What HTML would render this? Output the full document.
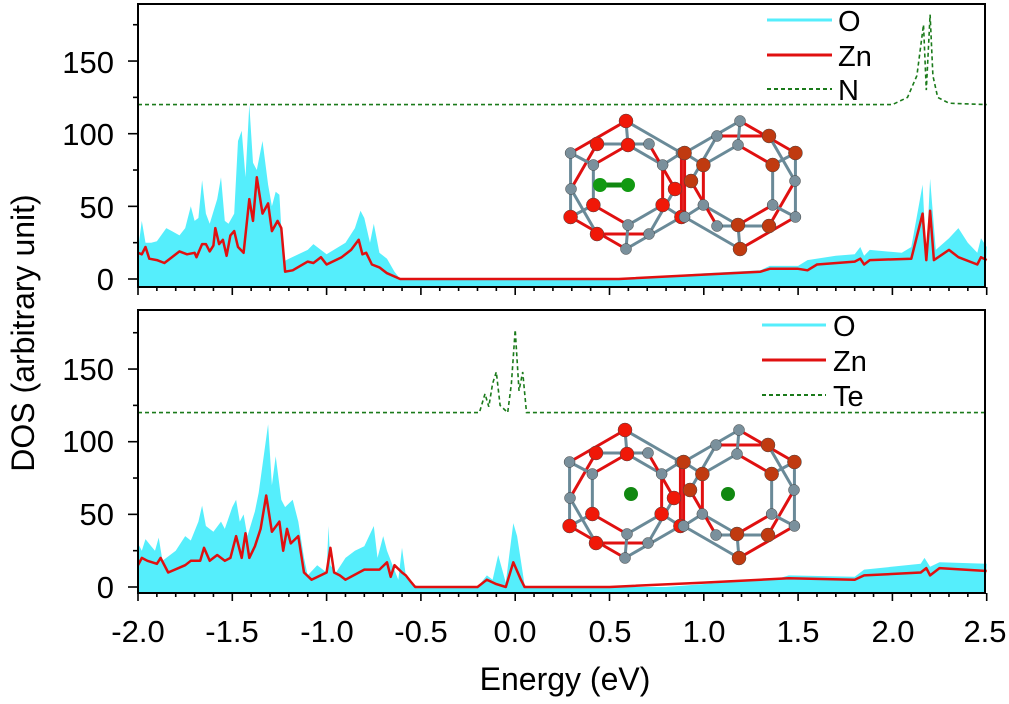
<!DOCTYPE html>
<html><head><meta charset="utf-8">
<style>
html,body{margin:0;padding:0;background:#fff;}
svg text{font-family:"Liberation Sans",Arial,sans-serif;fill:#000;}
</style></head>
<body>
<svg id="s" width="1009" height="699" viewBox="0 0 1009 699" xmlns="http://www.w3.org/2000/svg">
<g id="g"></g>
<g font-size="31">
<text x="114" y="73" text-anchor="end">150</text>
<text x="114" y="145" text-anchor="end">100</text>
<text x="114" y="218" text-anchor="end">50</text>
<text x="114" y="290" text-anchor="end">0</text>
<text x="114" y="380" text-anchor="end">150</text>
<text x="114" y="452" text-anchor="end">100</text>
<text x="114" y="525" text-anchor="end">50</text>
<text x="114" y="598" text-anchor="end">0</text>
</g>
<g font-size="31" text-anchor="middle">
<text x="138" y="642">-2.0</text><text x="232" y="642">-1.5</text><text x="327" y="642">-1.0</text>
<text x="421" y="642">-0.5</text><text x="515" y="642">0.0</text><text x="610" y="642">0.5</text>
<text x="704" y="642">1.0</text><text x="798" y="642">1.5</text><text x="893" y="642">2.0</text>
<text x="985" y="642">2.5</text>
</g>
<text x="565" y="690" font-size="32" text-anchor="middle">Energy (eV)</text>
<text transform="translate(34,333) rotate(-90)" font-size="32" text-anchor="middle">DOS (arbitrary unit)</text>
<g font-size="29">
<line x1="767" y1="20" x2="832" y2="20" stroke="#55eefc" stroke-width="3"/>
<text x="838" y="31">O</text>
<line x1="767" y1="55" x2="832" y2="55" stroke="#e01010" stroke-width="3"/>
<text x="838" y="66">Zn</text>
<line x1="767" y1="89" x2="832" y2="89" stroke="#1a7a1a" stroke-width="2" stroke-dasharray="4,3"/>
<text x="838" y="100">N</text>
<line x1="762" y1="325" x2="826" y2="325" stroke="#55eefc" stroke-width="3"/>
<text x="833" y="336">O</text>
<line x1="762" y1="360" x2="826" y2="360" stroke="#e01010" stroke-width="3"/>
<text x="833" y="371">Zn</text>
<line x1="762" y1="395" x2="826" y2="395" stroke="#1a7a1a" stroke-width="2" stroke-dasharray="4,3"/>
<text x="833" y="406">Te</text>
</g>
</svg>
<script>
var NS="http://www.w3.org/2000/svg",G=document.getElementById('g');
function el(t,a){var e=document.createElementNS(NS,t);for(var k in a)e.setAttribute(k,a[k]);G.appendChild(e);return e;}
function X(E){return 138+(E+2)*188.6;}
function pts(d,y0){var s=[];for(var i=0;i<d.length;i+=2)s.push(X(d[i]).toFixed(1)+','+(y0-d[i+1]*1.453).toFixed(1));return s;}
var tO=[-2,20,-1.98,40,-1.96,25,-1.93,25,-1.9,26,-1.85,35,-1.82,33,-1.78,30,-1.75,35,-1.72,50,-1.7,40,-1.68,42,-1.66,68,-1.64,45,-1.62,38,-1.58,55,-1.56,70,-1.54,40,-1.52,38,-1.49,45,-1.47,95,-1.45,102,-1.43,70,-1.41,120,-1.39,80,-1.37,75,-1.34,95,-1.31,65,-1.29,50,-1.27,60,-1.25,58,-1.23,12,-1.2,14,-1.1,20,-1.07,24,-1.0,17,-0.9,25,-0.85,35,-0.82,47,-0.8,42,-0.77,25,-0.75,38,-0.72,18,-0.68,14,-0.64,5,-0.61,0,0.55,0,1.0,4,1.3,6,1.35,9,1.5,9,1.55,13,1.7,16,1.8,17,1.83,22,1.85,16,1.88,20,2.05,18,2.1,22,2.16,65,2.18,15,2.2,69,2.23,20,2.3,28,2.35,35,2.4,25,2.45,18,2.47,28,2.5,22];
var tZ=[-2,18,-1.98,17,-1.96,22,-1.94,14,-1.9,13,-1.86,11,-1.82,15,-1.78,19,-1.74,17,-1.7,18,-1.69,15,-1.66,24,-1.64,24,-1.62,19,-1.6,23,-1.59,35,-1.57,24,-1.55,27,-1.53,16,-1.51,30,-1.49,33,-1.47,22,-1.44,18,-1.41,55,-1.39,40,-1.37,70,-1.34,45,-1.31,52,-1.29,33,-1.26,40,-1.24,35,-1.22,5,-1.18,6,-1.1,12,-1.07,11,-1.03,15,-1.0,10,-0.92,15,-0.87,20,-0.83,27,-0.81,17,-0.79,18,-0.76,10,-0.72,8,-0.68,4,-0.61,0,0.55,0,1.0,3,1.3,5,1.35,7,1.5,7,1.55,6,1.6,10,1.8,12,1.83,14,1.85,10,1.88,13,2.1,14,2.16,45,2.18,13,2.2,47,2.22,13,2.3,20,2.35,15,2.45,10,2.47,15,2.5,13];
var tN=[-2,120,2.0,120,2.08,125,2.13,140,2.165,175,2.18,130,2.2,182,2.215,140,2.24,125,2.3,121,2.5,120];
var bO=[-2,30,-1.98,25,-1.96,33,-1.93,28,-1.91,25,-1.89,34,-1.87,18,-1.8,25,-1.75,35,-1.72,32,-1.68,45,-1.66,56,-1.64,42,-1.6,38,-1.56,45,-1.54,40,-1.5,55,-1.48,60,-1.46,45,-1.44,50,-1.42,35,-1.38,52,-1.36,65,-1.31,112,-1.29,70,-1.27,90,-1.24,60,-1.22,55,-1.18,60,-1.15,45,-1.12,20,-1.1,8,-1.05,15,-1.0,10,-0.99,42,-0.98,15,-0.95,10,-0.9,20,-0.85,25,-0.8,28,-0.75,42,-0.73,20,-0.7,35,-0.68,25,-0.65,15,-0.62,5,-0.6,27,-0.58,8,-0.55,2,-0.5,0,-0.2,0,-0.15,8,-0.12,5,-0.09,22,-0.05,3,-0.01,44,0.01,35,0.04,10,0.05,1,0.1,0,0.8,0,1.4,6,1.45,8,1.8,7,1.85,12,2.15,16,2.17,20,2.2,14,2.25,17,2.5,16];
var bZ=[-2,15,-1.98,20,-1.95,18,-1.9,16,-1.88,20,-1.84,10,-1.75,15,-1.72,18,-1.67,18,-1.65,27,-1.62,18,-1.58,22,-1.54,18,-1.51,20,-1.48,35,-1.45,20,-1.43,37,-1.41,20,-1.38,28,-1.35,40,-1.32,63,-1.29,38,-1.25,45,-1.23,25,-1.21,40,-1.19,30,-1.15,35,-1.12,10,-1.08,5,-1.0,10,-0.98,27,-0.96,10,-0.93,8,-0.9,5,-0.8,12,-0.72,12,-0.68,17,-0.66,7,-0.64,15,-0.6,10,-0.58,8,-0.55,3,-0.53,0,-0.2,0,-0.15,5,-0.1,2,-0.05,0,-0.01,17,0.03,5,0.05,0,0.5,0,1.0,3,1.45,6,1.8,5,1.85,8,2.15,10,2.18,13,2.2,8,2.25,13,2.5,11];
var bT=[-2,120,-0.19,120,-0.16,133,-0.14,124,-0.12,140,-0.1,148,-0.08,125,-0.04,120,-0.02,140,0,177,0.02,135,0.04,148,0.06,120,2.5,120];
function panel(O,Z,D,y0,yb,yt){
  var p=pts(O,y0);el('polygon',{points:'138,'+yb+' '+p.join(' ')+' 985,'+yb,fill:'#55eefc'});
  el('polyline',{points:pts(Z,y0).join(' '),fill:'none',stroke:'#e01010','stroke-width':2.5,'stroke-linejoin':'round'});
  el('polyline',{points:pts(D,y0).join(' '),fill:'none',stroke:'#1a7a1a','stroke-width':1.6,'stroke-dasharray':'4,3'});
  el('rect',{x:138,y:yt,width:847,height:yb-yt,fill:'none',stroke:'#000','stroke-width':2});
  for(var i=0;i<=45;i++){var x=138+i*18.86,L=(i%5==0)?8:4;el('line',{x1:x,y1:yb,x2:x,y2:yb+L,stroke:'#000','stroke-width':1.6});}
  for(var v=0;v<=175;v+=25){var y=y0-v*1.453,L=(v%50==0)?10:5;el('line',{x1:138-L,y1:y,x2:138,y2:y,stroke:'#000','stroke-width':1.6});}
}
panel(tO,tZ,tN,279,287,4);
panel(bO,bZ,bT,587,593,310);
function mol(cx,cy,top){
  var hex=function(ox,oy,r,ph){var a=[];for(var k=0;k<6;k++){var t=Math.PI/3*k+ph;a.push([ox+r*Math.cos(t),oy+r*Math.sin(t)]);}return a;};
  var h1=hex(cx-57,cy,64,Math.PI/6),h2=hex(cx+57,cy,64,Math.PI/6),i1=hex(cx-55,cy,40,Math.PI/6),i2=hex(cx+55,cy,40,Math.PI/6),
      o1=hex(cx-60,cy+4,52,0),o2=hex(cx+60,cy-4,52,0);
  var all=[h1,h2,i1,i2,o1,o2];
  all.forEach(function(h,j){for(var k=0;k<6;k++){var a=h[k],c=h[(k+1)%6];el('line',{x1:a[0],y1:a[1],x2:c[0],y2:c[1],stroke:(k+j)%2?'#e01010':'#6a8a98','stroke-width':3});}});
  for(var k=0;k<6;k++){[[h1,i1],[h2,i2]].forEach(function(q){el('line',{x1:q[0][k][0],y1:q[0][k][1],x2:q[1][k][0],y2:q[1][k][1],stroke:'#6a8a98','stroke-width':3});});}
  all.forEach(function(h,j){for(var k=0;k<6;k++){var red=(k+j)%2==0;el('circle',{cx:h[k][0],cy:h[k][1],r:red?7:5.5,fill:red?(j%2?'#c03a10':'#f01808'):'#7a909c',stroke:'#444','stroke-width':0.5});}});
  if(top){el('line',{x1:cx-83,y1:cy,x2:cx-55,y2:cy,stroke:'#118811','stroke-width':5});el('circle',{cx:cx-83,cy:cy,r:7,fill:'#119911'});el('circle',{cx:cx-55,cy:cy,r:7,fill:'#119911'});}
  else{el('circle',{cx:cx-51,cy:cy,r:7,fill:'#118811'});el('circle',{cx:cx+46,cy:cy,r:7,fill:'#118811'});}
}
mol(683,185,true);
mol(682,494,false);
</script>
</body></html>
